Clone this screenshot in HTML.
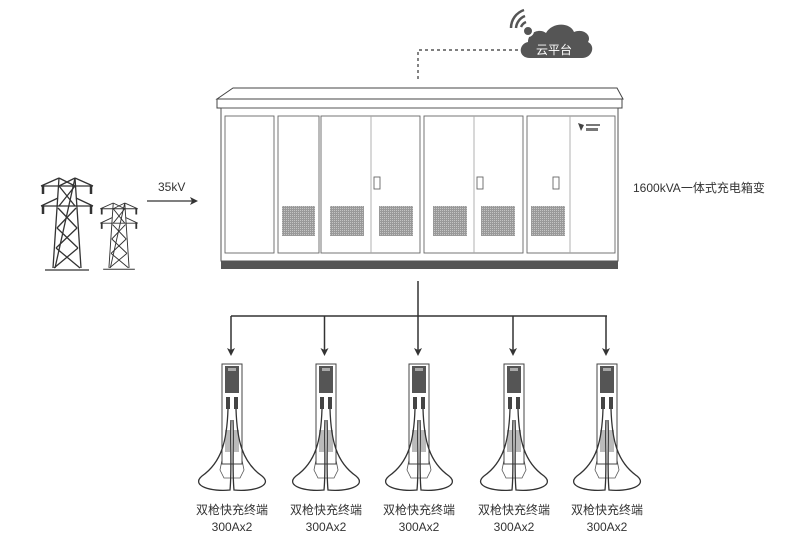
<!DOCTYPE html>
<html><head><meta charset="utf-8"><style>
html,body{margin:0;padding:0;background:#fff;width:800px;height:558px;overflow:hidden}
svg{display:block}
text{font-family:"Liberation Sans","Noto Sans CJK SC",sans-serif;fill:#333}
</style></head><body>
<svg width="800" height="558" viewBox="0 0 800 558" xmlns="http://www.w3.org/2000/svg">
<defs>
<pattern id="mesh" width="2" height="2" patternUnits="userSpaceOnUse"><rect width="2" height="2" fill="#999"/><rect width="1" height="1" fill="#c4c4c4"/></pattern>
<g id="chg">
 <path d="M-12,470 L-10,460 L10,460 L12,470 L8,478 L-8,478 Z" fill="#fff" stroke="#555" stroke-width="0.8"/>
 <rect x="-10" y="364" width="20" height="100" fill="#fff" stroke="#444" stroke-width="1"/>
 <rect x="-7" y="366" width="14" height="27" fill="#555"/>
 <rect x="-4" y="368" width="8" height="3" fill="#aaa"/>
 <rect x="-7" y="430" width="5" height="22" fill="#bbb"/><rect x="2" y="430" width="5" height="22" fill="#bbb"/>
 <rect x="-6" y="397" width="4" height="12" fill="#444"/><rect x="2" y="397" width="4" height="12" fill="#444"/>
 <path d="M-4,409 C-5,440 -10,462 -30,476 C-42,486 -20,492 -2,490 C0,470 -2,440 -1,420" fill="none" stroke="#333" stroke-width="1.3"/>
 <path d="M4,409 C5,440 10,462 30,476 C42,486 20,492 2,490 C0,470 2,440 1,420" fill="none" stroke="#333" stroke-width="1.3"/>
</g>
<g id="tower" fill="none" stroke="#333" stroke-width="1.3">
 <path d="M-8,0 L-14,90 M8,0 L14,90 M-22,92 L22,92"/>
 <path d="M-26,8 L26,8 M-26,8 L-8,0 M26,8 L8,0 M-26,28 L26,28 M-26,28 L-9,20 M26,28 L9,20"/>
 <path d="M-8,8 L8,28 M8,8 L-8,28 M-9,30 L10,50 M9,30 L-10,50 M-10,50 L11,70 M10,50 L-11,70 M-11,70 L13,90 M11,70 L-13,90 M-8,0 L8,8 M8,0 L-8,8"/>
 <path d="M-24,8 L-24,16 M24,8 L24,16 M-24,28 L-24,36 M24,28 L24,36" stroke-width="2.5"/>
 <path d="M8,0 L-12,90" />
</g>
<path id="ah" d="M-4,-8 L0,0 L4,-8 L0,-6 Z" fill="#333"/>
</defs>

<!-- cloud -->
<path d="M418,79 L418,50 L518,50" fill="none" stroke="#333" stroke-width="1.2" stroke-dasharray="3,3"/>
<path d="M530,58 C518,58 518,44 528,42 C528,32 540,28 546,33 C552,22 570,22 574,32 C584,28 592,36 588,42 C596,46 592,58 582,58 Z" fill="#555"/>
<circle cx="528" cy="31" r="5" fill="#555" stroke="#fff" stroke-width="2"/>
<path d="M521,27 A9,9 0 0 1 526,22 M516,28 A14,14 0 0 1 525,16 M511,28 A19,19 0 0 1 524,10" fill="none" stroke="#555" stroke-width="2.5"/>
<text x="536" y="54" font-size="12" style="fill:#fff">云平台</text>

<!-- cabinet -->
<path d="M217,99 L233,88 L617,88 L623,99 Z" fill="#fff" stroke="#444" stroke-width="1"/>
<rect x="217" y="99" width="405" height="9" fill="#fff" stroke="#444" stroke-width="1"/>
<rect x="221" y="108" width="397" height="153" fill="#fff" stroke="#555" stroke-width="1"/>
<rect x="221" y="261" width="397" height="8" fill="#555"/>
<g fill="none" stroke="#666" stroke-width="0.9">
 <rect x="225" y="116" width="49" height="137"/>
 <rect x="278" y="116" width="41" height="137"/>
 <rect x="321" y="116" width="99" height="137"/>
 <rect x="424" y="116" width="99" height="137"/>
 <rect x="527" y="116" width="88" height="137"/>
 <line x1="371" y1="116" x2="371" y2="253" stroke="#aaa"/>
 <line x1="474" y1="116" x2="474" y2="253" stroke="#aaa"/>
 <line x1="570" y1="116" x2="570" y2="253" stroke="#aaa"/>
 <rect x="374" y="177" width="6" height="12"/>
 <rect x="477" y="177" width="6" height="12"/>
 <rect x="553" y="177" width="6" height="12"/>
</g>
<g fill="url(#mesh)">
 <rect x="282" y="206" width="33" height="30"/>
 <rect x="330" y="206" width="34" height="30"/>
 <rect x="379" y="206" width="34" height="30"/>
 <rect x="433" y="206" width="34" height="30"/>
 <rect x="481" y="206" width="34" height="30"/>
 <rect x="531" y="206" width="34" height="30"/>
</g>
<path d="M578,123 L584,125 L581,131 Z" fill="#444"/>
<rect x="586" y="124" width="14" height="2" fill="#777"/><rect x="586" y="128" width="12" height="3" fill="#777"/>
<text x="633" y="192" font-size="12">1600kVA一体式充电箱变</text>

<!-- towers -->
<use href="#tower" transform="translate(67,178)"/>
<use href="#tower" transform="translate(119,203) scale(0.72)"/>
<line x1="147" y1="201" x2="192" y2="201" stroke="#333" stroke-width="1.3"/>
<path d="M198,201 L190,197 L192,201 L190,205 Z" fill="#333"/>
<text x="158" y="191" font-size="12">35kV</text>

<!-- distribution -->
<g stroke="#333" stroke-width="1.5" fill="none">
 <line x1="418" y1="281" x2="418" y2="316"/>
 <line x1="231" y1="316" x2="607" y2="316"/>
 <line x1="231" y1="316" x2="231" y2="350"/>
 <line x1="324.5" y1="316" x2="324.5" y2="350"/>
 <line x1="418" y1="316" x2="418" y2="350"/>
 <line x1="513" y1="316" x2="513" y2="350"/>
 <line x1="606" y1="316" x2="606" y2="350"/>
</g>
<use href="#ah" transform="translate(231,356)"/>
<use href="#ah" transform="translate(324.5,356)"/>
<use href="#ah" transform="translate(418,356)"/>
<use href="#ah" transform="translate(513,356)"/>
<use href="#ah" transform="translate(606,356)"/>
<use href="#chg" transform="translate(232,0)"/>
<use href="#chg" transform="translate(326,0)"/>
<use href="#chg" transform="translate(419,0)"/>
<use href="#chg" transform="translate(514,0)"/>
<use href="#chg" transform="translate(607,0)"/>
<g font-size="12" text-anchor="middle">
 <text x="232" y="514">双枪快充终端</text><text x="232" y="531">300Ax2</text>
 <text x="326" y="514">双枪快充终端</text><text x="326" y="531">300Ax2</text>
 <text x="419" y="514">双枪快充终端</text><text x="419" y="531">300Ax2</text>
 <text x="514" y="514">双枪快充终端</text><text x="514" y="531">300Ax2</text>
 <text x="607" y="514">双枪快充终端</text><text x="607" y="531">300Ax2</text>
</g>
</svg>
</body></html>
